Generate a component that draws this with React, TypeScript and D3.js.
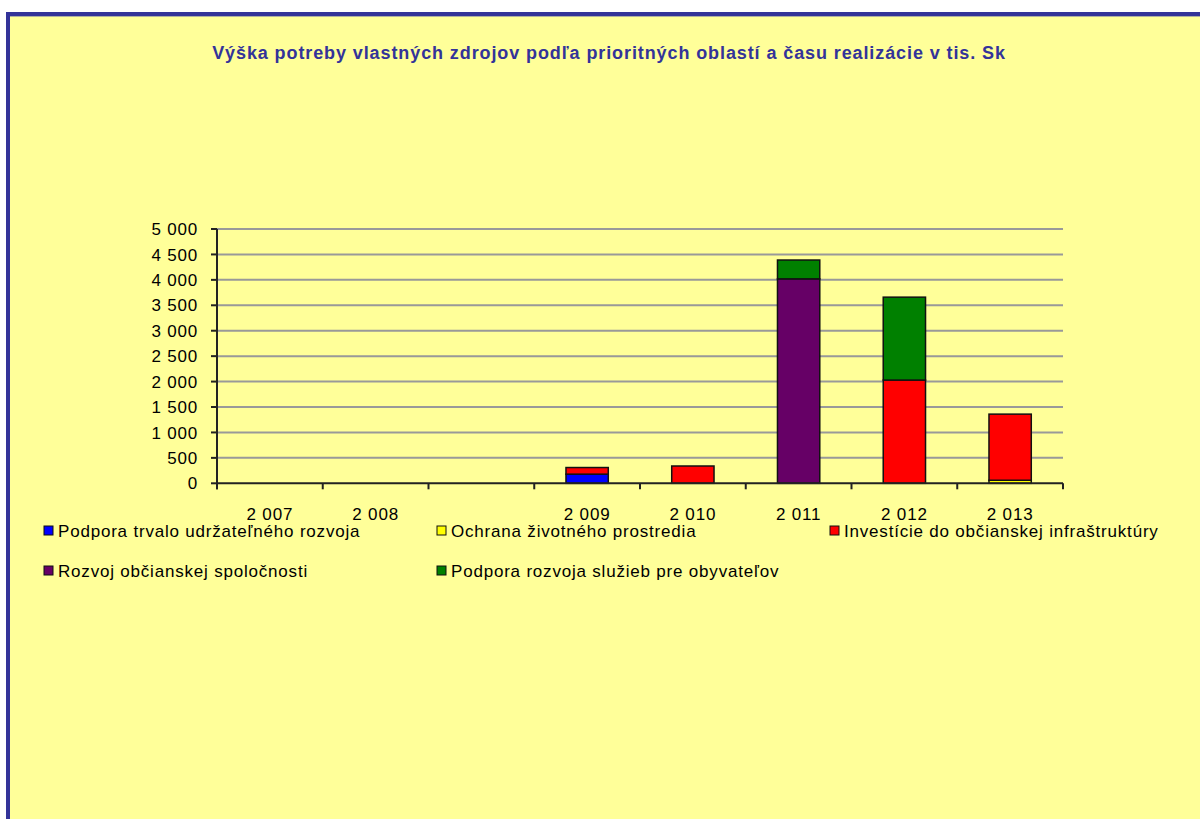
import React from "react";
import * as d3 from "d3";

const categories = ["2 007", "2 008", "", "2 009", "2 010", "2 011", "2 012", "2 013"];
const seriesNames = [
  "Podpora trvalo udržateľného rozvoja",
  "Ochrana životného prostredia",
  "Investície do občianskej infraštruktúry",
  "Rozvoj občianskej spoločnosti",
  "Podpora rozvoja služieb pre obyvateľov",
];
const seriesColors = ["#0000FF", "#FFFF00", "#FF0000", "#660066", "#008000"];
const podpora = [0, 0, 0, 180, 0, 0, 0, 0];
const ochrana = [0, 0, 0, 0, 0, 0, 0, 60];
const investicie = [0, 0, 0, 130, 340, 0, 2030, 1300];
const rozvoj = [0, 0, 0, 0, 0, 4020, 0, 0];
const sluzby = [0, 0, 0, 0, 0, 370, 1630, 0];
const yTicks = [0, 500, 1000, 1500, 2000, 2500, 3000, 3500, 4000, 4500, 5000];
const titleText = "Výška potreby vlastných  zdrojov podľa prioritných oblastí a času realizácie v tis. Sk";

export default function App() {
  const W = 1200, H = 819;
  const left = 217, right = 1063, top = 229, bottom = 483.3;
  const seriesValues = [podpora, ochrana, investicie, rozvoj, sluzby];
  const rows = categories.map((c, i) => {
    const r: any = { cat: i };
    seriesValues.forEach((s, k) => (r["s" + k] = s[i]));
    return r;
  });
  const keys = seriesValues.map((_, k) => "s" + k);
  const stacked = d3.stack().keys(keys)(rows);
  const x = d3.scaleBand<number>().domain(categories.map((_, i) => i)).range([left, right]).padding(0);
  const y = d3.scaleLinear().domain([0, 5000]).range([bottom, top]);
  const fmt = d3.formatLocale({ decimal: ",", thousands: " ", grouping: [3], currency: ["", ""] }).format(",d");
  const bw = x.bandwidth() * 0.4;
  const font = "Arial, 'Liberation Sans', sans-serif";
  const ls = 0.8;
  const boundaries = d3.range(categories.length + 1).map((i) => left + i * x.step());
  const legendPos = [
    { x: 44, y: 531 },
    { x: 437, y: 531 },
    { x: 830, y: 531 },
    { x: 44, y: 571 },
    { x: 437, y: 571 },
  ];
  return (
    <svg width={W} height={H} style={{ position: "absolute", left: 0, top: 0, display: "block" }} fontFamily={font}>
      <rect x={0} y={0} width={W} height={H} fill="#FFFFFF" />
      <rect x={8} y={14} width={W + 20} height={H + 20} fill="#FFFF99" stroke="#333399" strokeWidth={4} />
      <line x1={10} y1={16.5} x2={W} y2={16.5} stroke="#B0B0A0" strokeWidth={1} />
      <text x={609} y={53} dy="0.36em" textAnchor="middle" fontSize={18} fontWeight="bold" fill="#333399" letterSpacing={0.9}>
        {titleText}
      </text>
      {yTicks.map((t) => (
        <g key={t}>
          {t > 0 && <line x1={left} x2={right} y1={y(t)} y2={y(t)} stroke="#999999" strokeWidth={2} />}
          <line x1={left - 6} x2={left} y1={y(t)} y2={y(t)} stroke="#222" strokeWidth={2} />
          <text x={198} y={y(t)} dy="0.36em" textAnchor="end" fontSize={17} fill="#000" letterSpacing={ls}>
            {fmt(t)}
          </text>
        </g>
      ))}
      {stacked.map((layer, k) => (
        <g key={k}>
          {layer.map((d, i) =>
            d[1] - d[0] > 0 ? (
              <rect
                key={i}
                x={(x(i) as number) + (x.bandwidth() - bw) / 2}
                y={y(d[1])}
                width={bw}
                height={y(d[0]) - y(d[1])}
                fill={seriesColors[k]}
                stroke="#111"
                strokeWidth={1.5}
              />
            ) : null
          )}
        </g>
      ))}
      <line x1={left} x2={left} y1={top} y2={bottom + 6} stroke="#222" strokeWidth={2} />
      <line x1={left} x2={right} y1={bottom} y2={bottom} stroke="#222" strokeWidth={2} />
      {boundaries.map((b, i) => (
        <line key={i} x1={b} x2={b} y1={bottom} y2={bottom + 6} stroke="#222" strokeWidth={2} />
      ))}
      {categories.map((c, i) => (
        <text key={i} x={(x(i) as number) + x.bandwidth() / 2} y={514} dy="0.36em" textAnchor="middle" fontSize={17} fill="#000" letterSpacing={ls}>
          {c}
        </text>
      ))}
      {seriesNames.map((n, k) => (
        <g key={k}>
          <rect x={legendPos[k].x} y={legendPos[k].y - 5} width={9} height={9} fill={seriesColors[k]} stroke="#111" strokeWidth={1} />
          <text x={legendPos[k].x + 14} y={legendPos[k].y} dy="0.36em" fontSize={17} fill="#000" letterSpacing={ls}>
            {n}
          </text>
        </g>
      ))}
    </svg>
  );
}
